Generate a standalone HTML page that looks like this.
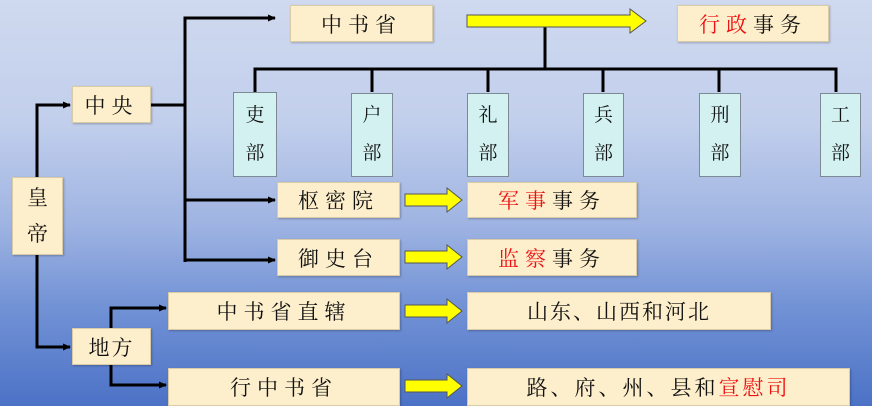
<!DOCTYPE html>
<html><head><meta charset="utf-8"><style>
html,body{margin:0;padding:0}
body{width:872px;height:406px;position:relative;overflow:hidden;
background:linear-gradient(to bottom,#cfd9ef 0%,#c2cfec 30%,#9fb4e2 55%,#7393d6 75%,#4c72c6 100%);
font-family:"Liberation Serif","Noto Serif CJK SC",serif;}
.b{position:absolute;background:#fdefcc;border:1px solid #d9cba8;box-sizing:border-box;box-shadow:1px 1px 2px rgba(0,0,0,.25);
display:flex;align-items:center;justify-content:center;font-size:21px;color:#111;letter-spacing:6px;white-space:nowrap}
.m{position:absolute;background:#d3f1f1;border:1px solid #7d8a96;box-sizing:border-box;font-size:19px;color:#111;
display:flex;flex-direction:column;align-items:center;justify-content:center;line-height:38px}
.r{color:#ee1111}
svg{position:absolute;left:0;top:0}
</style></head><body>
<svg width="872" height="406">
<defs><marker id="a" markerWidth="8" markerHeight="8" refX="7" refY="4" orient="auto" markerUnits="userSpaceOnUse"><path d="M0,0.5 L8,4 L0,7.5z" fill="#000"/></marker></defs>
<g stroke="#000" stroke-width="3" fill="none">
<path d="M37,177 V105 H70" marker-end="url(#a)"/>
<path d="M37,255 V347 H70" marker-end="url(#a)"/>
<path d="M151,105 H185"/>
<path d="M185,262 V18 H275" marker-end="url(#a)"/>
<path d="M185,200 H275" marker-end="url(#a)"/>
<path d="M185,260 H275" marker-end="url(#a)"/>
<path d="M111,328 V308 H166" marker-end="url(#a)"/>
<path d="M111,365 V385 H166" marker-end="url(#a)"/>
<path d="M545,27 V69"/>
<path d="M255,92 V69 H836 V92"/>
<path d="M372,69 V92 M488,69 V92 M603,69 V92 M719,69 V92"/>
</g>
<g fill="#ffff00" stroke="#555" stroke-width="1">
<path d="M467,15 H630 V9 L646,21 L630,33 V27 H467z"/>
<path d="M405,194 H447 V188 L462,200 L447,212 V206 H405z"/>
<path d="M405,251 H447 V245 L462,257 L447,269 V263 H405z"/>
<path d="M405,305 H447 V299 L462,311 L447,323 V317 H405z"/>
<path d="M405,380 H447 V374 L462,386 L447,398 V392 H405z"/>
</g>
</svg>
<div class="b" style="left:290px;top:5px;width:143px;height:37px">中书省</div>
<div class="b" style="left:677px;top:5px;width:152px;height:37px"><span class="r">行政</span>事务</div>
<div class="b" style="left:72px;top:86px;width:79px;height:37px">中央</div>
<div class="b" style="left:12px;top:177px;width:51px;height:78px;flex-direction:column;line-height:36px;letter-spacing:0">皇<br>帝</div>
<div class="b" style="left:72px;top:328px;width:79px;height:37px;letter-spacing:2px">地方</div>
<div class="b" style="left:277px;top:182px;width:123px;height:36px">枢密院</div>
<div class="b" style="left:277px;top:239px;width:123px;height:37px">御史台</div>
<div class="b" style="left:467px;top:182px;width:170px;height:36px"><span class="r">军事</span>事务</div>
<div class="b" style="left:467px;top:239px;width:170px;height:37px"><span class="r">监察</span>事务</div>
<div class="b" style="left:168px;top:292px;width:232px;height:38px">中书省直辖</div>
<div class="b" style="left:168px;top:368px;width:232px;height:38px">行中书省</div>
<div class="b" style="left:467px;top:292px;width:304px;height:38px;letter-spacing:2px">山东、山西和河北</div>
<div class="b" style="left:467px;top:368px;width:383px;height:38px;letter-spacing:3px">路、府、州、县和<span class="r">宣慰司</span></div>
<div class="m" style="left:233px;top:92px;width:44px;height:85px">吏<br>部</div>
<div class="m" style="left:351px;top:93px;width:42px;height:84px">户<br>部</div>
<div class="m" style="left:467px;top:93px;width:42px;height:84px">礼<br>部</div>
<div class="m" style="left:583px;top:93px;width:41px;height:84px">兵<br>部</div>
<div class="m" style="left:699px;top:93px;width:42px;height:84px">刑<br>部</div>
<div class="m" style="left:820px;top:93px;width:41px;height:84px">工<br>部</div>
</body></html>
